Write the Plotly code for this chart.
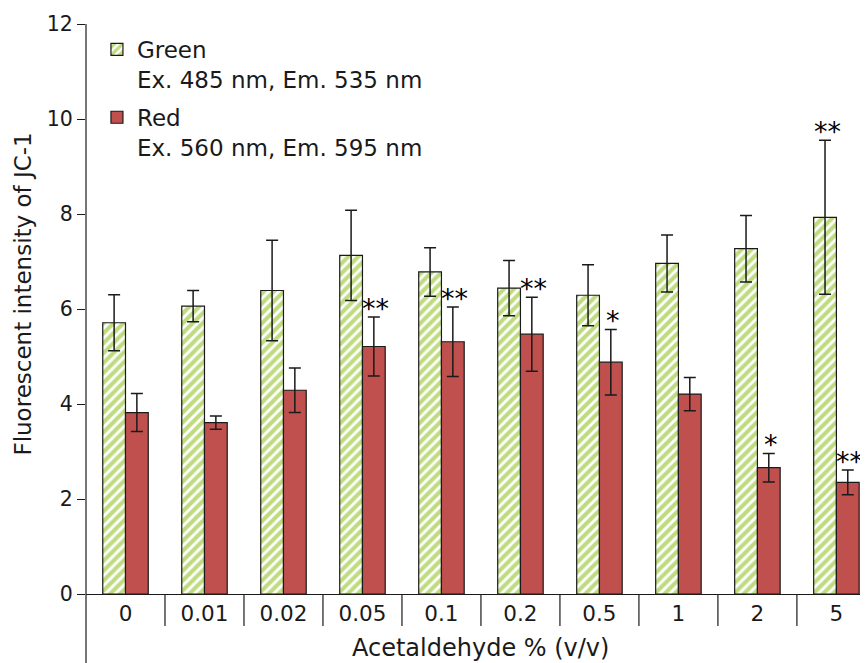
import plotly.graph_objects as go

categories = ["0", "0.01", "0.02", "0.05", "0.1", "0.2", "0.5", "1", "2", "5"]
green_values = [5.71, 6.06, 6.39, 7.13, 6.78, 6.44, 6.29, 6.96, 7.27, 7.93]
green_errors = [0.59, 0.33, 1.06, 0.95, 0.51, 0.58, 0.64, 0.60, 0.70, 1.62]
red_values = [3.82, 3.61, 4.29, 5.21, 5.31, 5.47, 4.88, 4.21, 2.66, 2.35]
red_errors = [0.40, 0.14, 0.47, 0.62, 0.73, 0.78, 0.69, 0.35, 0.30, 0.26]
green_marks = ["", "", "", "", "", "", "", "", "", "**"]
red_marks = ["", "", "", "**", "**", "**", "*", "", "*", "**"]
y_ticks = [0, 2, 4, 6, 8, 10, 12]

FONT = "DejaVu Sans"
INK = "#1a1a1a"
xs = list(range(len(categories)))

fig = go.Figure()
fig.add_trace(go.Bar(
    x=xs, y=green_values, name="Green<br>Ex. 485 nm, Em. 535 nm",
    legendgroup="g",
    marker=dict(color="white", line=dict(color=INK, width=1.2),
                pattern=dict(shape="/", fgcolor="#80B800", bgcolor="white",
                             size=7, solidity=0.58)),
    error_y=dict(type="data", array=green_errors, visible=True,
                 color=INK, thickness=1.5, width=6),
))
fig.add_trace(go.Bar(
    x=xs, y=red_values, name="Red<br>Ex. 560 nm, Em. 595 nm",
    legendgroup="r",
    marker=dict(color="#C0504D", line=dict(color=INK, width=1.2)),
    error_y=dict(type="data", array=red_errors, visible=True,
                 color=INK, thickness=1.5, width=6),
))

annotations = []
bar_w = 0.288
for i in xs:
    for marks, vals, errs, off in ((green_marks, green_values, green_errors, -bar_w / 2),
                                   (red_marks, red_values, red_errors, bar_w / 2)):
        if marks[i]:
            annotations.append(dict(
                x=i + off, y=vals[i] + errs[i], xref="x", yref="y",
                text=marks[i], showarrow=False, xanchor="center", yanchor="middle",
                xshift=2, yshift=9, font=dict(family=FONT, size=27, color="black")))

# axis titles as annotations
annotations.append(dict(
    x=4.5, y=-0.095, xref="x", yref="paper", text="Acetaldehyde % (v/v)",
    showarrow=False, xanchor="center", yanchor="middle",
    font=dict(family=FONT, size=24, color=INK)))
annotations.append(dict(
    x=-0.0806, y=0.527, xref="paper", yref="paper", text="Fluorescent intensity of JC-1",
    showarrow=False, textangle=-90, xanchor="center", yanchor="middle",
    font=dict(family=FONT, size=23, color=INK)))

shapes = [dict(type="line", xref="paper", yref="paper", x0=0, x1=0, y0=-0.125, y1=1,
               line=dict(color=INK, width=1.2))]
for i in xs[:-1]:
    shapes.append(dict(type="line", xref="x", yref="paper", x0=i + 0.5, x1=i + 0.5,
                       y0=0, y1=-0.056, line=dict(color=INK, width=1.2)))

# page body has an 8px default margin: offset the figure accordingly
fig.update_layout(
    width=860, height=655,
    margin=dict(l=78, r=0, t=16, b=69),
    paper_bgcolor="white", plot_bgcolor="white",
    barmode="group", bargap=0.424, bargroupgap=0,
    font=dict(family=FONT, size=21, color=INK),
    showlegend=True,
    legend=dict(x=0.014, y=0.993, xanchor="left", yanchor="top",
                bgcolor="rgba(0,0,0,0)", font=dict(family=FONT, size=23, color=INK),
                tracegroupgap=5, valign="top"),
    annotations=annotations,
    shapes=shapes,
)
fig.update_xaxes(range=[-0.5, 9.4], tickvals=xs, ticktext=categories,
                 showline=True, linecolor=INK, linewidth=1.2, ticks="",
                 showgrid=False, zeroline=False, tickfont=dict(size=21.5))
fig.update_yaxes(range=[0, 12], tickvals=y_ticks, showline=False,
                 ticks="outside", ticklen=8, tickcolor=INK, tickwidth=1.2,
                 showgrid=False, zeroline=False, tickfont=dict(size=20.5))

fig.write_html("out.html")
